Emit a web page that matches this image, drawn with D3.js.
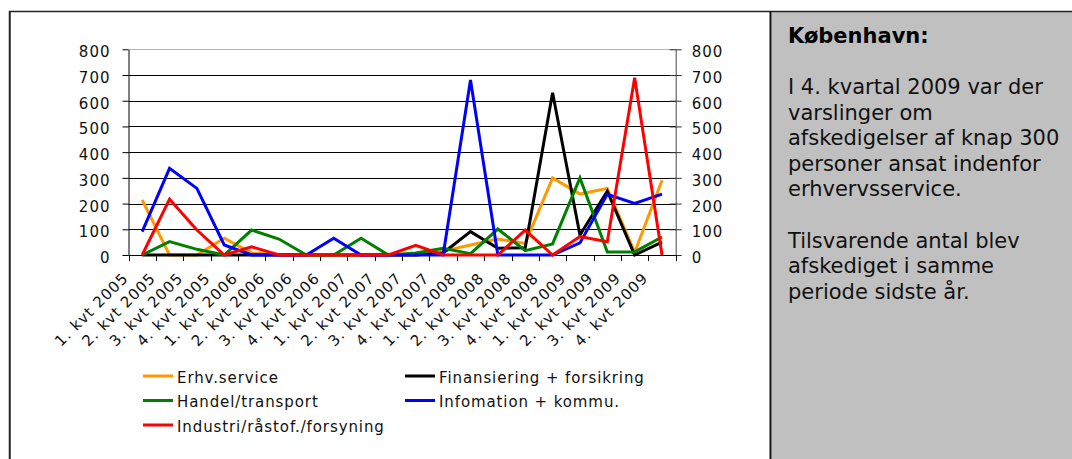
<!DOCTYPE html>
<html>
<head>
<meta charset="utf-8">
<script src="https://cdn.jsdelivr.net/npm/d3@7"></script>
<style>
  body { margin: 0; background: #fff; }
  svg text { font-family: "DejaVu Sans", Verdana, sans-serif; }
</style>
</head>
<body>
<svg id="chart" width="1072" height="459"></svg>
<script>
// quarters on the x axis
const quarters = [
  "1. kvt 2005", "2. kvt 2005", "3. kvt 2005", "4. kvt 2005",
  "1. kvt 2006", "2. kvt 2006", "3. kvt 2006", "4. kvt 2006",
  "1. kvt 2007", "2. kvt 2007", "3. kvt 2007", "4. kvt 2007",
  "1. kvt 2008", "2. kvt 2008", "3. kvt 2008", "4. kvt 2008",
  "1. kvt 2009", "2. kvt 2009", "3. kvt 2009", "4. kvt 2009"
];

// series values
const erhvService = [214, 0, 0, 65, 8, 0, 0, 0, 0, 0, 0, 15, 39, 62, 45, 300, 237, 259, 10, 291];
const finansiering = [0, 0, 0, 0, 0, 0, 0, 0, 0, 0, 0, 8, 91, 26, 28, 631, 78, 248, 0, 50];
const handel = [0, 52, 22, 0, 97, 62, 0, 0, 65, 0, 8, 26, 5, 101, 17, 43, 300, 12, 12, 70];
const information = [91, 337, 259, 39, 0, 0, 0, 65, 0, 0, 0, 0, 681, 0, 0, 0, 47, 236, 201, 237];
const industri = [0, 217, 97, 0, 32, 0, 0, 0, 0, 0, 38, 0, 0, 0, 97, 0, 72, 52, 689, 0];

const yTicks = [0, 100, 200, 300, 400, 500, 600, 700, 800];

const seriesNames = ["Erhv.service", "Finansiering + forsikring", "Handel/transport",
                     "Infomation + kommu.", "Industri/råstof./forsyning"];
const seriesColors = ["#FF9900", "#000000", "#008000", "#0000FF", "#FF0000"];

const seriesList = [erhvService, finansiering, handel, information, industri]
  .map((values, i) => ({ name: seriesNames[i], color: seriesColors[i], values }));

const note = {
  title: "København:",
  lines: [
    "I 4. kvartal 2009 var der",
    "varslinger om",
    "afskedigelser af knap 300",
    "personer ansat indenfor",
    "erhvervsservice.",
    "",
    "Tilsvarende antal blev",
    "afskediget i samme",
    "periode sidste år."
  ]
};

const svg = d3.select("#chart");

// frame + grey side panel
svg.append("rect")
  .attr("x", 771.5).attr("y", 12).attr("width", 301).attr("height", 447)
  .attr("fill", "#C0C0C0");
svg.append("line")
  .attr("x1", 9).attr("x2", 1072).attr("y1", 11.5).attr("y2", 11.5)
  .attr("stroke", "#222").attr("stroke-width", 1.5);
svg.append("line")
  .attr("x1", 9.75).attr("x2", 9.75).attr("y1", 11).attr("y2", 459)
  .attr("stroke", "#222").attr("stroke-width", 2);
svg.append("line")
  .attr("x1", 770.5).attr("x2", 770.5).attr("y1", 11).attr("y2", 459)
  .attr("stroke", "#111").attr("stroke-width", 2);

// scales
const x = d3.scaleBand().domain(quarters).range([128.5, 675.7]);
const y = d3.scaleLinear().domain([0, 800]).range([255, 49.3]);
const cx = d => x(d) + x.bandwidth() / 2;

// gridlines
svg.append("g")
  .selectAll("line")
  .data(yTicks.filter(t => t > 0))
  .join("line")
    .attr("x1", x.range()[0]).attr("x2", x.range()[1])
    .attr("y1", d => Math.round(y(d)) + 0.5).attr("y2", d => Math.round(y(d)) + 0.5)
    .attr("stroke", d => d === 800 ? "#b4b4b4" : "#000")
    .attr("stroke-width", 1);

// left axis
const leftAxis = svg.append("g")
  .attr("transform", `translate(${x.range()[0]},0)`)
  .call(d3.axisLeft(y).tickValues(yTicks).tickSize(6).tickSizeOuter(0).tickPadding(12));
leftAxis.select(".domain").attr("stroke", "#000");
leftAxis.selectAll(".tick line").attr("stroke", "#000");

// right axis (ticks cross the axis line)
const rightAxis = svg.append("g")
  .attr("transform", `translate(${x.range()[1]},0)`)
  .call(d3.axisRight(y).tickValues(yTicks).tickSize(6).tickSizeOuter(0).tickPadding(10));
rightAxis.selectAll(".tick line").attr("x1", -6).attr("stroke", "#333");
rightAxis.select(".domain").attr("stroke", "#444");

[leftAxis, rightAxis].forEach(a => {
  a.selectAll("text")
    .attr("fill", "#111")
    .style("font-size", "15px")
    .style("letter-spacing", "1px")
    .attr("dy", "0.5em");
});

// bottom axis: ticks at band boundaries
const bounds = quarters.map(q => x(q)).concat([x.range()[1]]);
svg.append("line")
  .attr("x1", x.range()[0]).attr("x2", x.range()[1])
  .attr("y1", y(0) + 0.5).attr("y2", y(0) + 0.5)
  .attr("stroke", "#000");
svg.append("g")
  .selectAll("line")
  .data(bounds)
  .join("line")
    .attr("x1", d => Math.round(d) + 0.5).attr("x2", d => Math.round(d) + 0.5)
    .attr("y1", y(0)).attr("y2", y(0) + 6)
    .attr("stroke", "#000");

svg.append("g")
  .selectAll("text")
  .data(quarters)
  .join("text")
    .attr("transform", d => `translate(${cx(d) - 13},${279}) rotate(-45)`)
    .attr("text-anchor", "end")
    .attr("fill", "#111")
    .style("font-size", "15px")
    .style("letter-spacing", "1px")
    .text(d => d);

// series lines
const line = d3.line()
  .x((d, i) => cx(quarters[i]))
  .y(d => y(d));

svg.append("g")
  .selectAll("path")
  .data(seriesList)
  .join("path")
    .attr("d", d => line(d.values))
    .attr("fill", "none")
    .attr("stroke", d => d.color)
    .attr("stroke-width", 3)
    .attr("stroke-linejoin", "miter");

// legend
const legendPos = [
  { x: 143, y: 376 }, { x: 405, y: 376 },
  { x: 143, y: 400.5 }, { x: 405, y: 400.5 },
  { x: 143, y: 425 }
];
const legend = svg.append("g")
  .selectAll("g")
  .data(seriesList)
  .join("g")
    .attr("transform", (d, i) => `translate(${legendPos[i].x},${legendPos[i].y})`);
legend.append("line")
  .attr("x1", 0).attr("x2", 30)
  .attr("stroke", d => d.color).attr("stroke-width", 3);
legend.append("text")
  .attr("x", 34).attr("y", 6.5)
  .attr("fill", "#111")
  .style("font-size", "15px")
  .style("letter-spacing", "0.9px")
  .text(d => d.name);

// note text in the grey panel
svg.append("text")
  .attr("x", 788).attr("y", 43)
  .attr("fill", "#000")
  .style("font-size", "21px")
  .style("font-weight", "bold")
  .text(note.title);

svg.append("g")
  .selectAll("text")
  .data(note.lines)
  .join("text")
    .attr("x", 788)
    .attr("y", (d, i) => 94 + i * 25.6)
    .attr("fill", "#111")
    .style("font-size", "21px")
    .text(d => d);
</script>
</body>
</html>
